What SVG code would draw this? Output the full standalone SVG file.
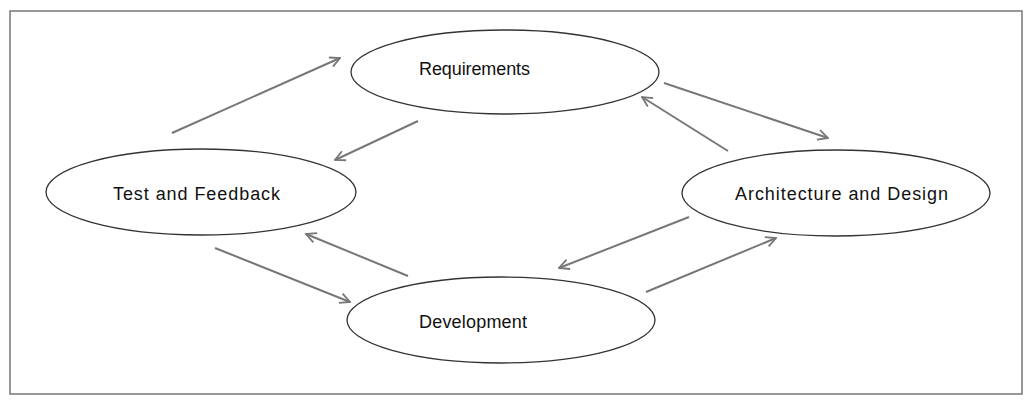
<svg xmlns="http://www.w3.org/2000/svg" width="1034" height="403" viewBox="0 0 1034 403">
<style>
.node ellipse{fill:#ffffff;stroke:#333333;stroke-width:1.3}
.node text{font-family:"Liberation Sans",Arial,sans-serif;font-size:18px;fill:#111111}
.conn line{stroke:#777777;stroke-width:2;fill:none;marker-end:url(#arr)}
</style>
<defs>
<marker id="arr" viewBox="0 0 12 12" refX="11" refY="6" markerWidth="12" markerHeight="12" markerUnits="userSpaceOnUse" orient="auto">
<path d="M1,1 L11,6 L1,11" fill="none" stroke="#777777" stroke-width="1.8"/>
</marker>
</defs>
<rect x="10" y="11" width="1012" height="383" fill="#ffffff" stroke="#777777" stroke-width="1.5"/>
<g class="conn" id="connectors">
<line x1="172" y1="133" x2="340" y2="58"/>
<line x1="418" y1="121" x2="335" y2="160"/>
<line x1="664" y1="83" x2="828" y2="138"/>
<line x1="728" y1="151" x2="642" y2="97"/>
<line x1="689" y1="217" x2="559" y2="268"/>
<line x1="646" y1="292" x2="776" y2="238"/>
<line x1="408" y1="276" x2="306" y2="234"/>
<line x1="215" y1="248" x2="350" y2="302"/>
</g>
<g class="node" id="requirements">
<ellipse cx="505" cy="72" rx="154" ry="42"/>
<text x="419" y="75" textLength="111" lengthAdjust="spacing">Requirements</text>
</g>
<g class="node" id="test-feedback">
<ellipse cx="201" cy="192" rx="155" ry="43"/>
<text x="113" y="200" textLength="167" lengthAdjust="spacing">Test and Feedback</text>
</g>
<g class="node" id="architecture-design">
<ellipse cx="836" cy="193" rx="154" ry="43"/>
<text x="735" y="200" textLength="213" lengthAdjust="spacing">Architecture and Design</text>
</g>
<g class="node" id="development">
<ellipse cx="501" cy="320" rx="154" ry="43"/>
<text x="419" y="328" textLength="108" lengthAdjust="spacing">Development</text>
</g>
</svg>
